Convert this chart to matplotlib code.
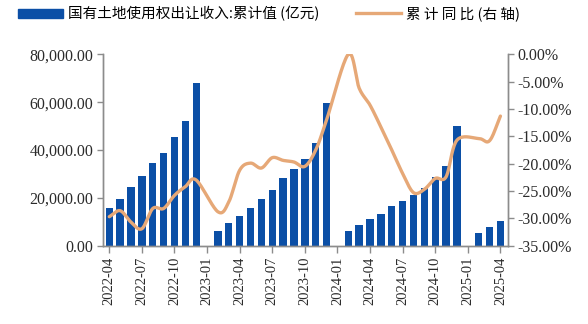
import numpy as np
import matplotlib.pyplot as plt
from matplotlib.patches import Patch
from matplotlib.lines import Line2D

plt.rcParams['font.family'] = ['Liberation Serif', 'Noto Sans CJK SC', 'DejaVu Sans']

# 月份: 2022-04 ~ 2025-04 (1月无单独数据)
meses = [f"{y}-{m:02d}" for y in range(2022, 2026) for m in range(1, 13)]
meses = meses[meses.index("2022-04"):meses.index("2025-04") + 1]

# 国有土地使用权出让收入累计值 (亿元), 1月为空
ingreso = [15650, 19540, 24430, 29040, 34480, 38910, 45350, 52300, 67950,
           np.nan, 6280, 9500, 12550, 15650, 19540, 23430, 28200, 32090, 36150, 42840, 59580,
           np.nan, 6280, 8660, 11050, 13390, 16610, 18830, 21340, 24020, 28620, 33350, 50080,
           np.nan, 5440, 7950, 10330]

# 累计同比 (%)
yoy = [-29.7, -28.6, -30.7, -31.9, -28.2, -28.2, -25.8, -24.2, -23.0,
       np.nan, -28.8, -27.0, -21.2, -19.9, -20.8, -18.9, -19.4, -19.7, -20.5, -17.5, -12.0,
       np.nan, 0.0, -6.2, -9.3, -13.3, -17.5, -21.8, -25.3, -24.7, -22.7, -22.4, -15.7,
       np.nan, -15.4, -15.8, -11.3]

azul = '#0b4fa6'
naranja = '#e6a877'
gris = '#8c8c8c'
texto = '#2b2b2b'


# Curva suavizada tipo Catmull-Rom entre los puntos
def suavizar(x, y, n=20):
    x = np.asarray(x, float)
    y = np.asarray(y, float)
    px = np.concatenate([[2 * x[0] - x[1]], x, [2 * x[-1] - x[-2]]])
    py = np.concatenate([[2 * y[0] - y[1]], y, [2 * y[-1] - y[-2]]])
    xs, ys = [], []
    t = np.linspace(0, 1, n, endpoint=False)
    for i in range(1, len(px) - 2):
        for p, out in ((px, xs), (py, ys)):
            p0, p1, p2, p3 = p[i - 1], p[i], p[i + 1], p[i + 2]
            out.extend(0.5 * ((2 * p1) + (-p0 + p2) * t
                              + (2 * p0 - 5 * p1 + 4 * p2 - p3) * t ** 2
                              + (-p0 + 3 * p1 - 3 * p2 + p3) * t ** 3))
    xs.append(x[-1])
    ys.append(y[-1])
    return np.array(xs), np.array(ys)


x = np.arange(len(meses))
ingreso = np.array(ingreso, float)
yoy = np.array(yoy, float)

fig = plt.figure(figsize=(5.88, 3.24), dpi=100)
ax = fig.add_axes([0.1757, 0.2417, 0.6883, 0.5907])
ax2 = ax.twinx()

ax.bar(x, ingreso, width=0.68, color=azul, zorder=2)

valido = ~np.isnan(yoy)
sx, sy = suavizar(x[valido], yoy[valido])
ax2.plot(sx, sy, color=naranja, lw=2.4, solid_capstyle='round')

ax.set_xlim(-0.55, len(meses) - 0.3)
ax.set_ylim(0, 80000)
ax.set_yticks(np.arange(0, 80001, 20000))
ax.set_yticklabels([f"{v:,.2f}" for v in np.arange(0, 80001, 20000)])
ax2.set_ylim(-35, 0)
ax2.set_yticks(np.arange(-35, 0.1, 5))
ax2.set_yticklabels([f"{v:.2f}%" for v in np.arange(-35, 0.1, 5)])

ticks = x[::3]
ax.set_xticks(ticks)
ax.set_xticklabels([meses[i] for i in ticks], rotation=90)

for a in (ax, ax2):
    a.spines['top'].set_visible(False)
    for s in ('left', 'right', 'bottom'):
        a.spines[s].set_color(gris)
        a.spines[s].set_linewidth(1.0)
    a.tick_params(colors=gris, labelcolor=texto, length=4, width=1.0)
ax.tick_params(axis='y', labelsize=11.5, pad=3)
ax.tick_params(axis='x', labelsize=10.5, length=5, pad=3)
ax2.tick_params(axis='y', labelsize=11.5, pad=3)

# Leyenda: dos bloques colocados por separado
estilo = dict(loc='upper left', frameon=False, borderpad=0, borderaxespad=0,
              handlelength=3.1, handleheight=0.6, handletextpad=0.3,
              prop={'family': ['Noto Sans CJK SC'], 'size': 10.5})
fig.legend([Patch(facecolor=azul, edgecolor=azul)],
           ['国有土地使用权出让收入:累计值 (亿元)'],
           bbox_to_anchor=(18 / 588, 1 - 6 / 324), **estilo)
fig.legend([Line2D([], [], color=naranja, lw=2.4)],
           ['累 计 同 比 (右 轴)'],
           bbox_to_anchor=(356 / 588, 1 - 6 / 324), **estilo)

fig.savefig('out.png', dpi=100)
